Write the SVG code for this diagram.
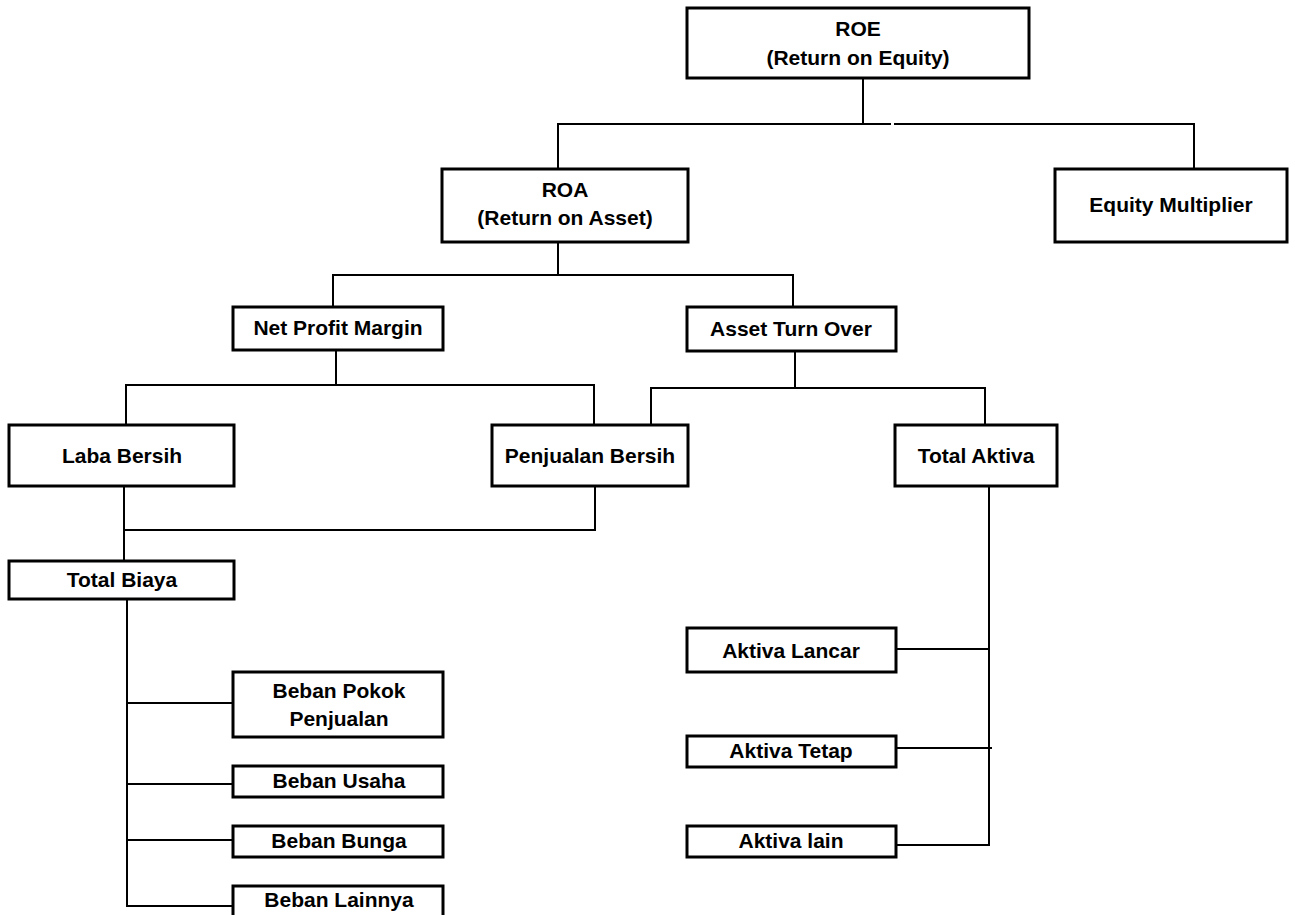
<svg xmlns="http://www.w3.org/2000/svg" width="1295" height="915" viewBox="0 0 1295 915">
<style>
.box{fill:#fff;stroke:#000;stroke-width:3}
.t{font-family:"Liberation Sans",Arial,sans-serif;font-weight:bold;font-size:21px;fill:#000;text-anchor:middle}
.c{fill:none;stroke:#000;stroke-width:2}
</style>
<rect width="1295" height="915" fill="#fff"/>
<g id="connectors" class="c">
<path d="M863 78V124"/>
<path d="M558 169V124H891"/>
<path d="M894 124H1194V169"/>
<path d="M558 242V275"/>
<path d="M333 307V275H793V307"/>
<path d="M336 350V385"/>
<path d="M126 425V385H594V425"/>
<path d="M795 351V388"/>
<path d="M651 425V388H985V425"/>
<path d="M124 486V561"/>
<path d="M595 486V530H124"/>
<path d="M127 599V906H233"/>
<path d="M127 703H233"/>
<path d="M127 784H233"/>
<path d="M127 840H233"/>
<path d="M989 486V845H896"/>
<path d="M896 649H989"/>
<path d="M896 748H992"/>
</g>
<g id="roe"><rect class="box" x="687" y="8" width="342" height="70"/><text class="t" x="858" y="36">ROE</text><text class="t" x="858" y="65">(Return on Equity)</text></g>
<g id="roa"><rect class="box" x="442" y="169" width="246" height="73"/><text class="t" x="565" y="197">ROA</text><text class="t" x="565" y="225">(Return on Asset)</text></g>
<g id="equity-multiplier"><rect class="box" x="1055" y="169" width="232" height="73"/><text class="t" x="1171" y="212">Equity Multiplier</text></g>
<g id="net-profit-margin"><rect class="box" x="233" y="307" width="210" height="43"/><text class="t" x="338" y="335">Net Profit Margin</text></g>
<g id="asset-turn-over"><rect class="box" x="687" y="307" width="209" height="44"/><text class="t" x="791" y="336">Asset Turn Over</text></g>
<g id="laba-bersih"><rect class="box" x="9" y="425" width="225" height="61"/><text class="t" x="122" y="463">Laba Bersih</text></g>
<g id="penjualan-bersih"><rect class="box" x="492" y="425" width="196" height="61"/><text class="t" x="590" y="463">Penjualan Bersih</text></g>
<g id="total-aktiva"><rect class="box" x="895" y="425" width="162" height="61"/><text class="t" x="976" y="463">Total Aktiva</text></g>
<g id="total-biaya"><rect class="box" x="9" y="561" width="225" height="38"/><text class="t" x="122" y="587">Total Biaya</text></g>
<g id="beban-pokok-penjualan"><rect class="box" x="233" y="672" width="210" height="65"/><text class="t" x="339" y="698">Beban Pokok</text><text class="t" x="339" y="726">Penjualan</text></g>
<g id="beban-usaha"><rect class="box" x="233" y="766" width="210" height="31"/><text class="t" x="339" y="788">Beban Usaha</text></g>
<g id="beban-bunga"><rect class="box" x="233" y="826" width="210" height="31"/><text class="t" x="339" y="848">Beban Bunga</text></g>
<g id="beban-lainnya"><rect class="box" x="233" y="886" width="210" height="33"/><text class="t" x="339" y="907">Beban Lainnya</text></g>
<g id="aktiva-lancar"><rect class="box" x="687" y="628" width="209" height="44"/><text class="t" x="791" y="658">Aktiva Lancar</text></g>
<g id="aktiva-tetap"><rect class="box" x="687" y="736" width="209" height="31"/><text class="t" x="791" y="758">Aktiva Tetap</text></g>
<g id="aktiva-lain"><rect class="box" x="687" y="826" width="209" height="31"/><text class="t" x="791" y="848">Aktiva lain</text></g>
</svg>
